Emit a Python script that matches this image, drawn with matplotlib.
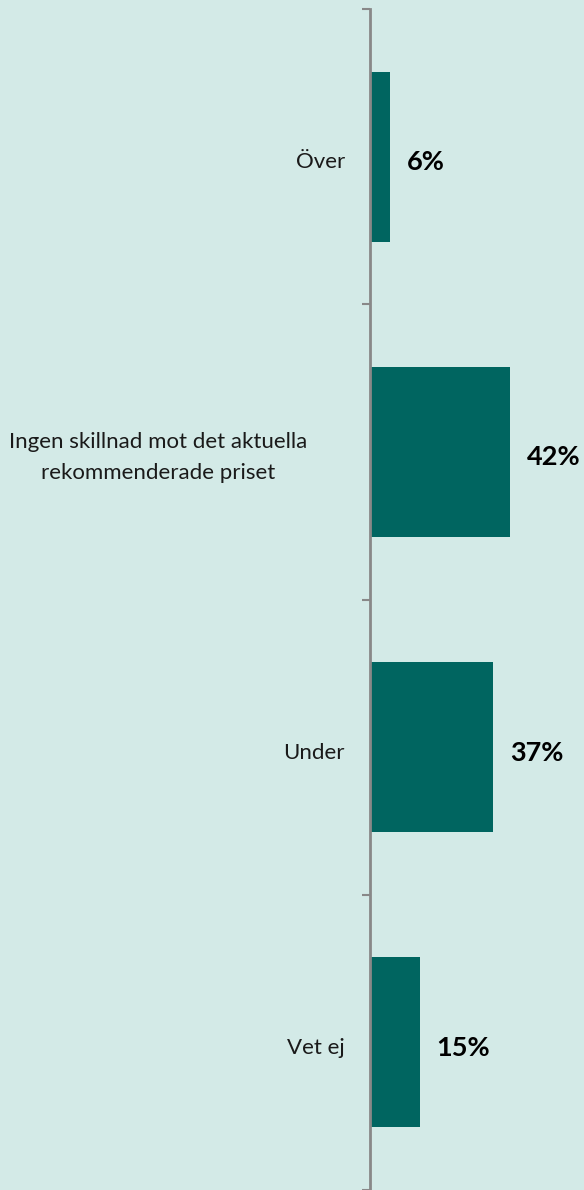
import matplotlib
matplotlib.use("Agg")
import matplotlib.pyplot as plt

# answers and shares (%)
categories = ["Över", "Ingen skillnad mot det aktuella\nrekommenderade priset", "Under", "Vet ej"]
shares = [6, 42, 37, 15]
value_labels = ["6%", "42%", "37%", "15%"]

bg = "#d3eae7"
barcol = "#006560"

plt.rcParams['font.family'] = ['Lato', 'DejaVu Sans']

fig = plt.figure(figsize=(5.84, 11.9), dpi=100, facecolor=bg)
ax = fig.add_axes([370/584, 0.0, 1 - 370/584, 1 - 9/1190])
ax.set_facecolor(bg)

ypos = list(range(len(categories)))
ax.barh(ypos, shares, height=0.575, color=barcol)
ax.set_ylim(len(categories) - 0.5, -0.5)
ax.set_xlim(0, 64.2)

#boundary ticks only, labels drawn by hand
ax.set_yticks([i - 0.5 for i in range(len(categories) + 1)])
ax.set_yticklabels([])
ax.tick_params(axis='y', length=6, width=1.5, color='#888888')
ax.set_xticks([])
for s in ['top', 'right', 'bottom']:
    ax.spines[s].set_visible(False)
ax.spines['left'].set_color('#888888')
ax.spines['left'].set_linewidth(2)

for y, cat in zip(ypos, categories):
    off = -45 if "\n" in cat else -18
    ax.annotate(cat, xy=(0, y), xycoords=('axes fraction', 'data'),
                xytext=(off, -4), textcoords='offset points',
                ha='right', va='center', multialignment='center',
                fontsize=16, linespacing=1.7, color='#1a1a1a')

for y, v, lab in zip(ypos, shares, value_labels):
    ax.annotate(lab, xy=(v, y), xytext=(12, -4), textcoords='offset points',
                ha='left', va='center', fontsize=19.5, fontweight='bold', color='black')

fig.savefig("out.png", dpi=100, facecolor=bg)
